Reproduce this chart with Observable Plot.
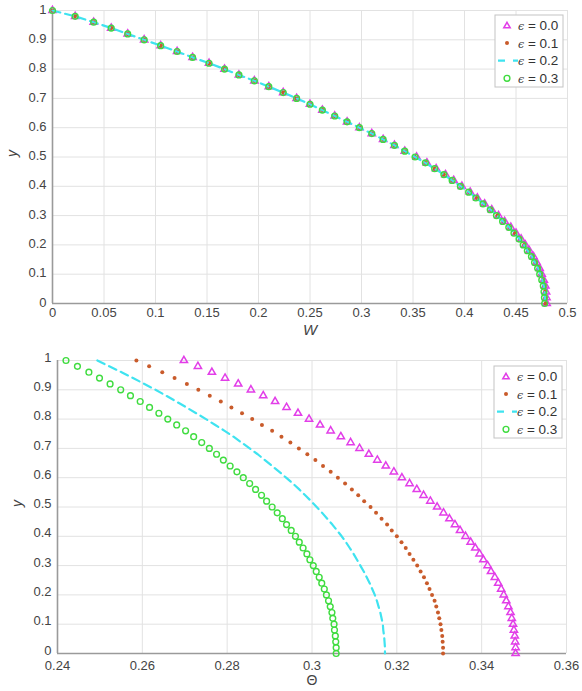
<!DOCTYPE html>
<html><head><meta charset="utf-8">
<script src="https://cdn.jsdelivr.net/npm/d3@7"></script>
<script src="https://cdn.jsdelivr.net/npm/@observablehq/plot@0.6"></script>
<style>
html,body{margin:0;padding:0;background:#fff;}
#chart{width:582px;height:691px;}
svg{display:block;}
</style></head><body><div id="chart"></div>
<script>
// ---- data ----
const seriesLabels = ["ϵ = 0.0", "ϵ = 0.1", "ϵ = 0.2", "ϵ = 0.3"];
const yLevels = [1,0.98,0.96,0.94,0.92,0.90,0.88,0.86,0.84,0.82,0.80,0.78,0.76,0.74,0.72,0.70,0.68,0.66,0.64,0.62,0.60,0.58,0.56,0.54,0.52,0.50,0.48,0.46,0.44,0.42,0.40,0.38,0.36,0.34,0.32,0.30,0.28,0.26,0.24,0.22,0.20,0.18,0.16,0.14,0.12,0.10,0.08,0.06,0.04,0.02,0];

// top panel: W
const wEps00 = [0.000,0.022,0.040,0.057,0.073,0.089,0.105,0.121,0.136,0.152,0.167,0.181,0.196,0.210,0.224,0.237,0.250,0.262,0.274,0.286,0.298,0.310,0.321,0.332,0.342,0.3535,0.3635,0.3725,0.3815,0.3895,0.3975,0.4055,0.4125,0.4195,0.4265,0.433,0.439,0.445,0.450,0.455,0.459,0.463,0.467,0.470,0.473,0.475,0.477,0.4785,0.4792,0.4796,0.4798];
const wEps01 = [0.000,0.022,0.040,0.057,0.073,0.089,0.105,0.121,0.136,0.152,0.167,0.181,0.196,0.210,0.224,0.237,0.250,0.262,0.274,0.286,0.298,0.310,0.321,0.332,0.342,0.352,0.362,0.371,0.380,0.388,0.397,0.405,0.412,0.419,0.426,0.432,0.438,0.444,0.449,0.454,0.458,0.462,0.466,0.469,0.472,0.474,0.476,0.4775,0.4782,0.4786,0.4788];
const wEps02 = [0.000,0.022,0.040,0.057,0.073,0.089,0.105,0.121,0.136,0.152,0.167,0.181,0.196,0.210,0.224,0.237,0.250,0.262,0.274,0.286,0.298,0.310,0.321,0.332,0.342,0.352,0.362,0.371,0.380,0.388,0.3965,0.4045,0.4115,0.4185,0.4255,0.4315,0.4375,0.4435,0.4485,0.4535,0.4575,0.4615,0.4655,0.4685,0.4715,0.4735,0.4755,0.477,0.4777,0.4781,0.4783];
const wEps03 = [0.000,0.022,0.040,0.057,0.073,0.089,0.105,0.121,0.136,0.152,0.167,0.181,0.196,0.210,0.224,0.237,0.250,0.262,0.274,0.286,0.298,0.310,0.321,0.332,0.342,0.352,0.362,0.371,0.380,0.388,0.396,0.404,0.411,0.418,0.425,0.431,0.437,0.443,0.448,0.453,0.457,0.461,0.465,0.468,0.471,0.473,0.475,0.4765,0.4772,0.4776,0.4778];

// bottom panel: Theta
const thetaEps00 = [0.2698,0.2731,0.2764,0.2795,0.2826,0.2856,0.2885,0.2913,0.2940,0.2967,0.2993,0.3019,0.3044,0.3068,0.3091,0.3112,0.3134,0.3154,0.3174,0.3193,0.3212,0.3230,0.3247,0.3263,0.3279,0.3295,0.3310,0.3324,0.3337,0.3349,0.3362,0.3374,0.3385,0.3395,0.3404,0.3414,0.3422,0.3431,0.3439,0.3446,0.3452,0.3458,0.3463,0.3468,0.3471,0.3474,0.3476,0.3478,0.3479,0.3480,0.3480];
const thetaEps01 = [0.2586,0.2616,0.2647,0.2676,0.2705,0.2732,0.2759,0.2785,0.2810,0.2835,0.2859,0.2882,0.2906,0.2928,0.2949,0.2969,0.2989,0.3008,0.3026,0.3044,0.3061,0.3078,0.3094,0.3109,0.3123,0.3138,0.3151,0.3164,0.3177,0.3188,0.3200,0.3211,0.3221,0.3230,0.3239,0.3248,0.3256,0.3264,0.3271,0.3277,0.3283,0.3289,0.3293,0.3297,0.3300,0.3303,0.3305,0.3307,0.3308,0.3309,0.3309];
const thetaEps02 = [0.2494,0.2522,0.2551,0.2578,0.2605,0.2631,0.2656,0.2680,0.2704,0.2727,0.2750,0.2772,0.2794,0.2815,0.2834,0.2853,0.2872,0.2889,0.2906,0.2923,0.2939,0.2955,0.2970,0.2984,0.2998,0.3011,0.3024,0.3036,0.3048,0.3059,0.3070,0.3080,0.3089,0.3098,0.3106,0.3114,0.3122,0.3129,0.3136,0.3142,0.3148,0.3153,0.3157,0.3161,0.3164,0.3167,0.3168,0.3170,0.3171,0.3172,0.3172];
const thetaEps03 = [0.2420,0.2447,0.2474,0.2499,0.2524,0.2549,0.2572,0.2595,0.2617,0.2639,0.2660,0.2681,0.2702,0.2721,0.2740,0.2758,0.2775,0.2791,0.2807,0.2823,0.2838,0.2853,0.2867,0.2881,0.2893,0.2906,0.2918,0.2930,0.2940,0.2951,0.2961,0.2970,0.2979,0.2988,0.2995,0.3003,0.3010,0.3017,0.3023,0.3029,0.3034,0.3039,0.3043,0.3047,0.3049,0.3052,0.3053,0.3055,0.3056,0.3057,0.3057];

const xTicksW = [0,0.05,0.1,0.15,0.2,0.25,0.3,0.35,0.4,0.45,0.5];
const xTicksTheta = [0.24,0.26,0.28,0.3,0.32,0.34,0.36];
const yTicks = [0,0.1,0.2,0.3,0.4,0.5,0.6,0.7,0.8,0.9,1];

// ---- styling ----
const colors = ["#e23ee8", "#c95b2b", "#3fe3f0", "#3fdc3f"];
const fontFam = "'Liberation Sans', Arial, Helvetica, sans-serif";

function toRows(xs) {
  return xs.map((x, i) => ({x, y: yLevels[i]}));
}

function panel(opt) {
  const [d0, d1, d2, d3s] = opt.series.map(toRows);
  const plot = Plot.plot({
    width: 582,
    height: opt.height,
    marginTop: opt.marginTop,
    marginBottom: opt.marginBottom,
    marginLeft: opt.marginLeft,
    marginRight: opt.marginRight,
    style: {fontFamily: fontFam, fontSize: "13px", color: "#444", background: "#fff"},
    x: {domain: [opt.xTicks[0], opt.xTicks[opt.xTicks.length - 1]]},
    y: {domain: [0, 1]},
    marks: [
      Plot.gridX(opt.xTicks, {stroke: "#e2e2e2", strokeOpacity: 1}),
      Plot.gridY(yTicks, {stroke: "#e2e2e2", strokeOpacity: 1}),
      Plot.axisX(opt.xTicks, {tickSize: 0, tickPadding: opt.xPad, label: null, tickFormat: d => String(d), fontSize: 13}),
      Plot.axisY(yTicks, {tickSize: 0, tickPadding: 6, dy: opt.yDy, label: null, tickFormat: d => String(d), fontSize: 13}),
      Plot.ruleX([opt.xTicks[0]], {stroke: "#9a9a9a", strokeWidth: 1.6}),
      Plot.ruleY([0], {stroke: "#9a9a9a", strokeWidth: 1.6}),
      Plot.dot(d0, {x: "x", y: "y", symbol: "triangle", r: 2.7, stroke: colors[0], strokeWidth: 1.5, fill: "none"}),
      Plot.dot(d1, {x: "x", y: "y", r: 2, fill: colors[1], stroke: "none"}),
      Plot.line(d2, {x: "x", y: "y", stroke: colors[2], strokeWidth: 2.2, strokeDasharray: "8,5"}),
      Plot.dot(d3s, {x: "x", y: "y", r: 2.9, stroke: colors[3], strokeWidth: 1.4, fill: "none"}),
      Plot.text([opt.xLabel], {frameAnchor: "bottom", dy: opt.xLabelDy, text: d => d, fontStyle: opt.xItalic ? "italic" : "normal", fontSize: opt.xLabelSize, fill: "#444"}),
      Plot.text(["y"], {frameAnchor: "left", dx: -40, rotate: -90, text: d => d, fontStyle: "italic", fontSize: 14, fill: "#444"})
    ]
  });

  // legend box
  const svg = d3.select(plot);
  const right = 582 - opt.marginRight;
  const bx = right - 72, by = opt.marginTop + opt.legendDy;
  const g = svg.append("g").attr("transform", `translate(${bx},${by})`).attr("text-anchor", "start");
  g.append("rect").attr("width", 68).attr("height", 72).attr("fill", "#fff").attr("stroke", "#c4c4c4").attr("stroke-width", 1);
  seriesLabels.forEach((lab, i) => {
    const cy = 10.5 + i * 17.6;
    const mx = 12;
    if (i === 0) {
      g.append("path").attr("d", `M${mx},${cy - 3.2}L${mx + 3.2},${cy + 2.3}L${mx - 3.2},${cy + 2.3}Z`).attr("fill", "none").attr("stroke", colors[0]).attr("stroke-width", 1.5);
    } else if (i === 1) {
      g.append("circle").attr("cx", mx).attr("cy", cy).attr("r", 2).attr("fill", colors[1]);
    } else if (i === 2) {
      g.append("line").attr("x1", 3).attr("x2", 23).attr("y1", cy).attr("y2", cy).attr("stroke", colors[2]).attr("stroke-width", 2.2).attr("stroke-dasharray", "7,8");
    } else {
      g.append("circle").attr("cx", mx).attr("cy", cy).attr("r", 2.9).attr("fill", "none").attr("stroke", colors[3]).attr("stroke-width", 1.4);
    }
    const t = g.append("text").attr("x", 23).attr("y", cy + 4.5).attr("text-anchor", "start").attr("fill", "#333").style("font-family", fontFam).style("font-size", "13.5px");
    t.append("tspan").style("font-family", "'DejaVu Serif', serif").style("font-style", "italic").style("font-size", "11px").text(lab.charAt(0));
    t.append("tspan").text(lab.slice(1));
  });
  return plot;
}

const chart = document.getElementById("chart");
chart.append(panel({
  series: [wEps00, wEps01, wEps02, wEps03],
  xTicks: xTicksW, xLabel: "W", xItalic: true, xLabelDy: 31, xLabelSize: 15, xPad: 4, yDy: -1,
  height: 345, marginTop: 10, marginBottom: 42, marginLeft: 52, marginRight: 15, legendDy: 5
}));
chart.append(panel({
  series: [thetaEps00, thetaEps01, thetaEps02, thetaEps03],
  xTicks: xTicksTheta, xLabel: "Θ", xItalic: false, xLabelDy: 31, xLabelSize: 14, xPad: 7, yDy: -3,
  height: 346, marginTop: 15, marginBottom: 38, marginLeft: 57, marginRight: 16, legendDy: 6
}));
</script></body></html>
